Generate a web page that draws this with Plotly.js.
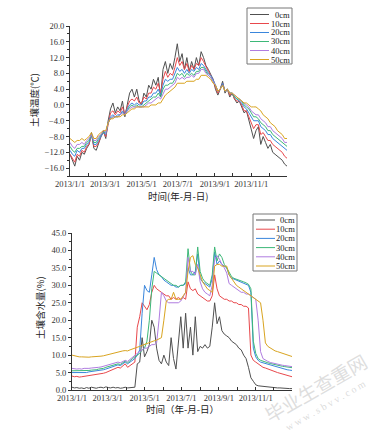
<!DOCTYPE html>
<html>
<head>
<meta charset="utf-8">
<script src="https://cdn.plot.ly/plotly-3.0.1.min.js"></script>
<style>html,body{margin:0;padding:0;background:#fff;}#chart{width:384px;height:439px;}</style>
</head>
<body>
<div id="chart"></div>
<script>
// ---------- DATA ----------
const dates = ["2013-01-01","2013-01-05","2013-01-09","2013-01-13","2013-01-17","2013-01-21","2013-01-25","2013-01-29",
"2013-02-02","2013-02-06","2013-02-10","2013-02-14","2013-02-18","2013-02-22","2013-02-26","2013-03-02",
"2013-03-06","2013-03-10","2013-03-14","2013-03-18","2013-03-22","2013-03-26","2013-03-30","2013-04-03",
"2013-04-07","2013-04-11","2013-04-15","2013-04-19","2013-04-23","2013-04-27","2013-05-01","2013-05-05",
"2013-05-09","2013-05-13","2013-05-17","2013-05-21","2013-05-25","2013-05-29","2013-06-02","2013-06-06",
"2013-06-10","2013-06-14","2013-06-18","2013-06-22","2013-06-26","2013-06-30","2013-07-04","2013-07-08",
"2013-07-12","2013-07-16","2013-07-20","2013-07-24","2013-07-28","2013-08-01","2013-08-05","2013-08-09",
"2013-08-13","2013-08-17","2013-08-21","2013-08-25","2013-08-29","2013-09-02","2013-09-06","2013-09-10",
"2013-09-14","2013-09-18","2013-09-22","2013-09-26","2013-09-30","2013-10-04","2013-10-08","2013-10-12",
"2013-10-16","2013-10-20","2013-10-24","2013-10-28","2013-11-01","2013-11-05","2013-11-09","2013-11-13",
"2013-11-17","2013-11-21","2013-11-25","2013-11-29","2013-12-03","2013-12-07","2013-12-11","2013-12-15",
"2013-12-19","2013-12-23","2013-12-27","2013-12-31"];

const depthNames = ["0cm","10cm","20cm","30cm","40cm","50cm"];

// Soil temperature (°C)
const temp0 = [-12.5,-14,-15.5,-13,-14,-12,-12.5,-11,
-10,-7,-11,-11.5,-10,-8,-6.5,-8.5,
-4,-1,0.5,-2,-0.5,-1.5,1,-3,
0,3,4,2,4,1,0,3,
2,5,4,6.5,5,7,2,9,
11,8,10.5,9,12,15.5,11,13,
9,12,8.5,11,9,12,10,13.5,
12,10,9,7.5,6.5,4,2.5,4,
6,3,4,2,3,1.5,0.5,1,
-0.5,-2,-1.5,-4,-6,-8.5,-6.5,-5.5,
-10,-8,-9.5,-11,-10,-12,-12.5,-13,
-13.5,-14,-15,-15.5];
const temp10 = [-12.5,-13.5,-14.5,-12.5,-13,-11.5,-12,-10.5,
-10,-7.5,-10.5,-10.5,-9.5,-8,-7,-8,
-4.5,-2,-1.5,-2.5,-1.5,-2,-0.5,-2.5,
-0.5,1,1.5,1,2,0.5,0.5,2,
1.5,3,3,4.5,4,5.5,3,6.5,
8.5,7,8,7.5,9.5,12,10,11,
9,10.5,8.5,10,9,10.5,10,12,
11,9.5,8.5,7.5,6.5,4.5,3,4,
5.5,3.5,4,2.5,3,1.5,1,1,
0,-1.5,-1.5,-3,-4.5,-6,-5,-5,
-7.5,-7,-8,-9,-9,-10,-10.5,-11,
-11.5,-12,-13,-13.5];
const temp20 = [-11.5,-12.5,-13,-11.5,-12,-11,-11,-10,
-9.5,-7.5,-10,-10,-9,-8,-7,-7.5,
-4.5,-3,-2.5,-3,-2.5,-2.5,-1.5,-2.5,
-1,0,0.5,0,0.5,0,0,1,
1,2,2,3,3,4,2.5,5,
6.5,6,6.5,6.5,8,9.5,8.5,9,
8,9,8,9,8.5,9.5,9,10.5,
10,9,8,7.5,6.5,5,3.5,4,
5.5,3.5,4,3,3,2,1.5,1,
0.5,-0.5,-1,-2,-3,-4,-4,-4,
-5.5,-6,-6.5,-7.5,-7.5,-8.5,-9,-9.5,
-10,-10.5,-11,-11.5];
const temp30 = [-10.5,-11.5,-12,-11,-11,-10.5,-10.5,-9.5,
-9,-7.5,-9.5,-9.5,-8.5,-7.5,-7,-7,
-4.5,-3.5,-3,-3,-3,-2.5,-2,-2.5,
-1.5,-0.5,0,-0.5,0,-0.5,-0.5,0,
0.5,1,1.5,2,2,3,2,4,
5,5,5.5,5.5,6.5,8,7.5,8,
7,8,7.5,8,7.5,8.5,8.5,9.5,
9.5,8.5,7.5,7,6,5,3.5,4,
5,3.5,4,3,3,2,1.5,1.5,
1,0,-0.5,-1,-2,-3,-3,-3.5,
-4.5,-5,-5.5,-6.5,-6.5,-7.5,-8,-8.5,
-9,-9.5,-10,-10.5];
const temp40 = [-9.5,-10.5,-11,-10,-10,-9.5,-10,-9,
-8.5,-7.5,-9,-9,-8,-7.5,-6.5,-7,
-4.5,-3.5,-3,-3,-3,-2.5,-2,-2.5,
-1.5,-1,-0.5,-0.5,-0.5,-0.5,-0.5,-0.5,
0,0.5,0.5,1,1.5,2,1.5,3,
4,4,4.5,5,5.5,7,6.5,7,
6.5,7,7,7.5,7,8,8,9,
9,8,7.5,7,6,5,3.5,4,
5,3.5,4,3,3,2.5,2,1.5,
1,0.5,0,-0.5,-1.5,-2,-2.5,-2.5,
-3.5,-4,-4.5,-5.5,-5.5,-6.5,-7,-7.5,
-8,-8.5,-9.5,-9.5];
const temp50 = [-8.5,-9,-9.5,-9,-9,-8.5,-9,-8.5,
-8,-7,-8.5,-8.5,-7.5,-7,-6.5,-6.5,
-4.5,-3.5,-3.5,-3,-3,-3,-2.5,-2.5,
-2,-1.5,-1,-1,-0.5,-0.5,-0.5,-0.5,
-0.5,-0.5,0,0,0,0.5,0.5,1.5,
2.5,3,3.5,4,4.5,5.5,5.5,5.5,
5.5,6,6,6,6,6.5,6.5,7.5,
7.5,7.5,7,6.5,5.5,5,3.5,4,
5,3.5,4,3,3,2.5,2,1.5,
1,0.5,0.5,0,-0.5,-0.5,-0.5,-1,
-1.5,-2.5,-3,-3.5,-4.5,-5,-5.5,-6.5,
-7,-7.5,-8.5,-8.5];

// Soil moisture (%)
const moist0 = [0.8,0.6,0.7,0.5,0.6,0.4,0.7,0.5,
0.8,0.6,0.5,0.7,0.8,0.6,0.9,0.7,
0.6,0.8,0.6,0.7,0.5,0.6,0.8,0.6,
0.7,0.9,0.8,7.5,8,15,9.5,11,
13,20,18,12,8.5,7.5,10,8,
7,15,9,6,13,21,12,22,
12,18,10,21,11,12.5,12,13,
12,12.5,18,25,19,21,17,16,
15.5,15,14,13.5,13,12,11.5,10,
9,6.5,3.5,2.5,1.5,1.2,1.1,1,
1,0.9,0.8,0.8,0.7,0.6,0.6,0.5,
0.5,0.4,0.4,0.4];
const moist10 = [4,3.8,3.9,3.7,3.8,3.9,4,4,
4.1,4.2,4.3,4.5,4.5,4.8,5,5.3,
5.5,6,6.2,6.5,6.3,6.8,7.5,6.5,
7,7.5,8,18,21,25,24,23,
24.5,28,30,29,28.5,28,27.5,27,
27,26,26.5,26,26.5,26,26.5,26,
31,29,28.5,29,27.5,27,26.5,26,
25.5,25.5,27,33,29,27,26.5,26,
26,25.5,25.5,25,25,24.5,24.5,24,
24,23.5,10,8.5,8,7.5,7,6.5,
6.3,6,5.8,5.5,5.3,5,4.8,4.6,
4.4,4.2,4,3.8];
const moist20 = [5,5,4.9,5,5,5.1,5,5.2,
5.3,5.2,5.4,5.5,5.6,5.8,6,6.2,
6.5,6.8,7,7.2,7,7.5,8,7.5,
8,8.5,9,10,11.5,22,30,28.5,
28,33,38,34.5,33,32.5,31.5,31,
30.5,30,30,29.5,29.5,30,30,30.5,
35,33,33,34,39,32,31,30.5,
30,29.5,32,39.5,36,37,36,35.5,
35,33,32,31.8,31.5,31.3,31,30.8,
30.5,30,28,12,9.5,8.5,8,7.8,
7.5,7.2,7,6.8,6.6,6.4,6.2,6,
5.9,5.8,5.7,5.6];
const moist30 = [5.5,5.5,5.4,5.5,5.5,5.6,5.5,5.6,
5.7,5.7,5.8,6,6,6.2,6.5,6.7,
7,7.2,7.3,7.5,7.3,7.8,8.3,7.8,
8.5,9,9.5,10,10.5,11.5,12,14,
20,29,34,33.5,33,32.5,32,31.5,
31,30.5,30,30,29.5,30,30,31,
40.5,34,33,33,41,34,32,31,
30.5,30,33,41,37,39,38,36,
35,33.5,32.5,32,31.8,31.5,31.3,31,
30.7,30.3,29,14,10.5,9,8.5,8.2,
8,7.8,7.6,7.4,7.2,7,6.9,6.8,
6.7,6.6,6.5,6.4];
const moist40 = [6.2,6,6,6.1,6,6.2,6.1,6.2,
6.3,6.3,6.4,6.5,6.6,6.8,7,7.2,
7.4,7.6,7.8,8,7.8,8.2,8.5,8.2,
8.8,9.5,10,10.5,11,11.5,12,12,
12.5,13,13,13.5,20,28,27,25.5,
25,25,25,25,25,25.5,27,28,
38,34,34,33,36,31,29,28,
27.5,27,30,37.5,38.5,37.5,36,35,
33.5,30.5,30,29.5,29,28.5,28,28,
27.5,27.5,27,26.5,26,20,11,9,
8.5,8.2,7.9,7.7,7.5,7.3,7.2,7.1,
7,6.9,6.8,6.7];
const moist50 = [10,9.8,9.6,9.5,9.5,9.4,9.5,9.4,
9.5,9.5,9.6,9.6,9.7,9.8,10,10.2,
10.4,10.6,10.8,11,11.1,11.2,11.3,11.2,
11.5,11.7,11.9,12.2,12.5,12.8,13.1,13.3,
13.6,13.9,14.1,14.3,14.6,15,20,25.5,
26,26,28,26,26,26,27,28,
34,38,38.5,36,35,33,31,30,
29,28.5,28,35.5,36,36,35.5,35.5,
35.5,33,32,31,30,29.5,29,28.5,
28,27.5,27,26.5,26,25.5,25,20,
13.5,12.5,12,11.5,11.2,11,10.8,10.5,
10.2,10,9.8,9.6];

// ---------- STYLE ----------
const colors = ["#505050","#e8484c","#3a86dc","#3db878","#b07de0","#d9a420"];
const W = 384, H = 439;
const px = x => x / W;
const py = y => 1 - y / H;
const serif = "Liberation Serif, Times New Roman, serif";
const cjk = "Noto Sans CJK SC, sans-serif";

const tempSeries = [temp0, temp10, temp20, temp30, temp40, temp50];
const moistSeries = [moist0, moist10, moist20, moist30, moist40, moist50];

const traces = [];
tempSeries.forEach((s, k) => traces.push({x: dates, y: s, type: 'scatter', mode: 'lines', name: depthNames[k],
  line: {color: colors[k], width: 1}, xaxis: 'x', yaxis: 'y', hoverinfo: 'skip'}));
moistSeries.forEach((s, k) => traces.push({x: dates, y: s, type: 'scatter', mode: 'lines', name: depthNames[k],
  line: {color: colors[k], width: 1}, xaxis: 'x2', yaxis: 'y2', hoverinfo: 'skip'}));

const axCommon = {showline: true, linecolor: '#333', linewidth: 1, showgrid: false, zeroline: false,
  tickcolor: '#333', tickfont: {family: serif, size: 8.5, color: '#333'}};
const xCommon = Object.assign({}, axCommon, {type: 'date', range: ['2013-01-01', '2013-12-31'],
  tick0: '2013-01-01', dtick: 'M2', tickformat: '%Y/%-m/%-d', ticks: 'inside', ticklen: 3,
  minor: {dtick: 'M1', ticks: 'inside', ticklen: 3, tickcolor: '#333', showgrid: false}});

// Legends drawn as shapes + text
const shapes = [];
const annotations = [];
function addLegend(x0, x1, y0, y1, lineX0, lineX1, textX, rowY0, rowStep) {
  shapes.push({type: 'rect', xref: 'paper', yref: 'paper', x0: px(x0), x1: px(x1), y0: py(y0), y1: py(y1),
    line: {color: '#777', width: 1}, fillcolor: 'rgba(0,0,0,0)'});
  depthNames.forEach((nm, k) => {
    const yy = rowY0 + k * rowStep;
    shapes.push({type: 'line', xref: 'paper', yref: 'paper', x0: px(lineX0), x1: px(lineX1), y0: py(yy), y1: py(yy),
      line: {color: colors[k], width: 1}});
    annotations.push({xref: 'paper', yref: 'paper', x: px(textX), y: py(yy), xanchor: 'right', yanchor: 'middle',
      text: nm, showarrow: false, borderpad: 0, font: {family: serif, size: 8.5, color: '#222'}});
  });
}
addLegend(247, 292, 8, 64, 250, 269, 291, 14.5, 9);
addLegend(253, 297, 214, 271, 256, 275, 296, 220, 9.2);

function addText(x, y, text, size, angle, color, family) {
  annotations.push({xref: 'paper', yref: 'paper', x: px(x), y: py(y), xanchor: 'center', yanchor: 'middle',
    text: text, showarrow: false, textangle: angle || 0, borderpad: 0,
    font: {family: family || cjk, size: size, color: color || '#222'}});
}
addText(34, 100, '土壤温度(℃)', 9.5, -90);
addText(178, 195.5, '时间(年-月-日)', 9.5, 0);
addText(40, 308, '土壤含水量(%)', 9.5, -90);
addText(182, 408.5, '时间（年-月-日）', 9.5, 0);
// watermark
addText(315, 387, '毕业生查重网', 19, -30, 'rgba(200,200,200,0.6)');
addText(325, 405, 'w w w . s b v v . c o m', 10, -30, 'rgba(200,200,200,0.65)', serif);

const layout = {
  width: W, height: H, margin: {l: 0, r: 0, t: 0, b: 0},
  paper_bgcolor: '#fff', plot_bgcolor: '#fff', showlegend: false,
  font: {family: serif, size: 9, color: '#333'},
  xaxis: Object.assign({}, xCommon, {domain: [px(70), px(287)], anchor: 'y'}),
  yaxis: Object.assign({}, axCommon, {domain: [py(176), py(26)], anchor: 'x', range: [-18, 20],
    tick0: 0, dtick: 4, tickformat: '.1f', ticks: 'outside', ticklen: 3,
    minor: {dtick: 2, ticks: 'outside', ticklen: 2, tickcolor: '#333', showgrid: false}}),
  xaxis2: Object.assign({}, xCommon, {domain: [px(72), px(292)], anchor: 'y2'}),
  yaxis2: Object.assign({}, axCommon, {domain: [py(390), py(233)], anchor: 'x2', range: [0, 45],
    tick0: 0, dtick: 5, tickformat: '.1f', ticks: 'outside', ticklen: 3,
    minor: {dtick: 2.5, ticks: 'outside', ticklen: 2, tickcolor: '#333', showgrid: false}}),
  shapes: shapes,
  annotations: annotations
};

Plotly.newPlot('chart', traces, layout, {displayModeBar: false, staticPlot: true});
</script>
</body>
</html>
